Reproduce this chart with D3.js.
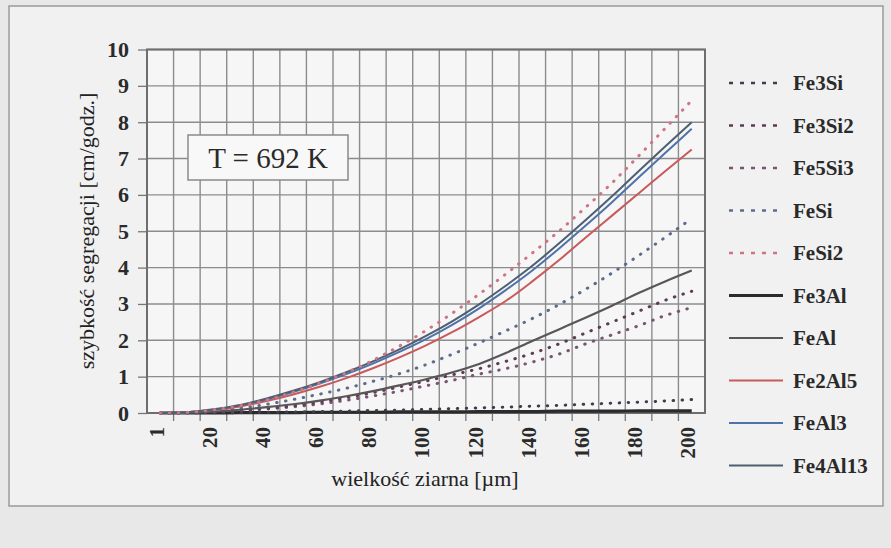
<!DOCTYPE html>
<html><head><meta charset="utf-8">
<script src="https://cdn.jsdelivr.net/npm/d3@7"></script>
<style>body{margin:0;background:#e8e8e8;}svg{display:block}</style>
</head><body>
<svg id="chart" width="891" height="548"></svg>
<script>
const categories = ["1","10","20","30","40","50","60","70","80","90","100","110","120","130","140","150","160","170","180","190","200"];
const xTickLabels = ["1","20","40","60","80","100","120","140","160","180","200"];
const yTicks = [0,1,2,3,4,5,6,7,8,9,10];
const seriesNames = ["Fe3Si","Fe3Si2","Fe5Si3","FeSi","FeSi2","Fe3Al","FeAl","Fe2Al5","FeAl3","Fe4Al13"];
const fe3Si   = [0,0,0.01,0.01,0.02,0.03,0.04,0.05,0.07,0.08,0.1,0.12,0.14,0.16,0.19,0.21,0.24,0.27,0.3,0.33,0.37];
const fe3Si2  = [0,0.01,0.03,0.07,0.13,0.2,0.3,0.42,0.56,0.72,0.88,1.05,1.22,1.42,1.64,1.9,2.2,2.5,2.8,3.1,3.35];
const fe5Si3  = [0,0.01,0.03,0.06,0.11,0.17,0.25,0.35,0.47,0.6,0.75,0.9,1.07,1.22,1.4,1.62,1.9,2.15,2.4,2.68,2.9];
const feSi    = [0,0.01,0.05,0.13,0.24,0.37,0.52,0.68,0.87,1.08,1.33,1.62,1.93,2.26,2.6,2.98,3.4,3.85,4.33,4.83,5.35];
const feSi2   = [0,0.02,0.09,0.2,0.36,0.57,0.82,1.11,1.45,1.84,2.27,2.75,3.27,3.82,4.4,5.0,5.65,6.33,7.07,7.83,8.6];
const fe3Al   = [0,0,0,0.01,0.01,0.01,0.02,0.02,0.02,0.03,0.03,0.03,0.04,0.04,0.04,0.05,0.05,0.05,0.06,0.06,0.06];
const feAl    = [0,0.01,0.04,0.09,0.16,0.24,0.34,0.46,0.6,0.76,0.93,1.12,1.35,1.65,1.98,2.3,2.62,2.95,3.3,3.62,3.92];
const fe2Al5  = [0,0.02,0.08,0.18,0.33,0.51,0.72,0.96,1.23,1.53,1.86,2.23,2.64,3.08,3.62,4.2,4.82,5.43,6.04,6.65,7.25];
const feAl3   = [0,0.02,0.09,0.21,0.38,0.58,0.81,1.07,1.36,1.68,2.03,2.43,2.88,3.38,3.92,4.52,5.15,5.8,6.48,7.15,7.82];
const fe4Al13 = [0,0.02,0.1,0.22,0.4,0.61,0.85,1.12,1.42,1.75,2.12,2.53,2.99,3.5,4.05,4.66,5.3,5.96,6.65,7.33,8.0];
const seriesValues = [fe3Si,fe3Si2,fe5Si3,feSi,feSi2,fe3Al,feAl,fe2Al5,feAl3,fe4Al13];

const styles = {
  "Fe3Si":  {color:"#3a3f4c", w:3, dash:"0.5,8.5"},
  "Fe3Si2": {color:"#5e3a55", w:3, dash:"0.5,8.5"},
  "Fe5Si3": {color:"#7a5470", w:3, dash:"0.5,8.5"},
  "FeSi":   {color:"#5d6c8c", w:3, dash:"0.5,8.5"},
  "FeSi2":  {color:"#cf7482", w:3, dash:"0.5,8.5"},
  "Fe3Al":  {color:"#2b2b2b", w:3.2, dash:null},
  "FeAl":   {color:"#5a5558", w:2.2, dash:null},
  "Fe2Al5": {color:"#c85a5c", w:2.0, dash:null},
  "FeAl3":  {color:"#4f72a8", w:2.0, dash:null},
  "Fe4Al13":{color:"#4d5f70", w:2.0, dash:null}
};

const svg = d3.select("#chart");
const serif = "'Liberation Serif','Times New Roman',serif";
const M = {left:147, right:705, top:49.5, bottom:413};

// outer frame
svg.append("rect").attr("x",9).attr("y",6).attr("width",874).attr("height",500)
  .attr("fill","#f1f1f1").attr("stroke","#9a9a9a").attr("stroke-width",1.5);

const x = d3.scaleBand().domain(categories).range([M.left, M.right]).paddingInner(0).paddingOuter(0);
const y = d3.scaleLinear().domain([0,10]).range([M.bottom, M.top]);
const cx = c => x(c) + x.bandwidth()/2;

// plot area
svg.append("rect").attr("x",M.left).attr("y",M.top).attr("width",M.right-M.left).attr("height",M.bottom-M.top)
  .attr("fill","#f6f6f6");

// horizontal gridlines
svg.append("g").selectAll("line").data(yTicks.filter(t=>t>0)).join("line")
  .attr("x1",M.left).attr("x2",M.right).attr("y1",d=>y(d)).attr("y2",d=>y(d))
  .attr("stroke","#8c8c8c").attr("stroke-width",1.4);
// vertical gridlines at category boundaries
svg.append("g").selectAll("line").data(categories.slice(1)).join("line")
  .attr("x1",d=>x(d)).attr("x2",d=>x(d)).attr("y1",M.top).attr("y2",M.bottom)
  .attr("stroke","#8c8c8c").attr("stroke-width",1.4);

// y axis
const yAxis = d3.axisLeft(y).tickValues(yTicks).tickSize(9).tickPadding(9).tickFormat(d3.format("d"));
const gy = svg.append("g").attr("transform",`translate(${M.left},0)`).call(yAxis);
gy.select(".domain").remove();
gy.selectAll(".tick line").attr("stroke","#777").attr("stroke-width",1.3);
gy.selectAll("text").attr("font-family",serif).attr("font-size",22).attr("font-weight","bold").attr("fill","#2a2a2a");

// x axis
const xAxis = d3.axisBottom(x).tickValues(categories).tickSize(0).tickFormat(d => xTickLabels.includes(d) ? d : "");
const gx = svg.append("g").attr("transform",`translate(0,${M.bottom})`).call(xAxis);
gx.select(".domain").remove();
gx.selectAll(".tick text").attr("font-family",serif).attr("font-size",21).attr("font-weight","bold").attr("fill","#2a2a2a")
  .attr("transform","rotate(-90)").attr("text-anchor","end").attr("x",-14).attr("y",-4).attr("dy","0.35em");
// x tick marks at boundaries
svg.append("g").selectAll("line").data(categories.slice(1)).join("line")
  .attr("x1",d=>x(d)).attr("x2",d=>x(d)).attr("y1",M.bottom).attr("y2",M.bottom+8)
  .attr("stroke","#777").attr("stroke-width",1.3);

// plot border
svg.append("rect").attr("x",M.left).attr("y",M.top).attr("width",M.right-M.left).attr("height",M.bottom-M.top)
  .attr("fill","none").attr("stroke","#6e6e6e").attr("stroke-width",2);

// series
const line = d3.line().x((d,i)=>cx(categories[i])).y(d=>y(d)).curve(d3.curveMonotoneX);
const drawOrder = [5,0,2,1,3,6,7,8,9,4];
drawOrder.forEach(k => {
  const name = seriesNames[k], st = styles[name];
  svg.append("path").datum(seriesValues[k]).attr("d",line)
    .attr("fill","none").attr("stroke",st.color).attr("stroke-width",st.w)
    .attr("stroke-linecap", st.dash ? "round" : "butt")
    .attr("stroke-dasharray", st.dash);
});

// T box
const tb = svg.append("g");
tb.append("rect").attr("x",188).attr("y",135).attr("width",160).attr("height",45)
  .attr("fill","#f8f8f8").attr("stroke","#8a8a8a").attr("stroke-width",1.5);
tb.append("text").attr("x",268).attr("y",168).attr("text-anchor","middle")
  .attr("font-family",serif).attr("font-size",29).attr("fill","#2a2a2a").text("T = 692 K");

// legend
const lg = svg.append("g");
seriesNames.forEach((name,i) => {
  const st = styles[name];
  const yy = 83 + i*42.5;
  lg.append("line").attr("x1",729).attr("x2",783).attr("y1",yy).attr("y2",yy)
    .attr("stroke",st.color).attr("stroke-width",st.dash?2.4:Math.max(2,st.w-0.4))
    .attr("stroke-dasharray", st.dash ? "4,7" : null);
  lg.append("text").attr("x",793).attr("y",yy).attr("dy","0.35em")
    .attr("font-family",serif).attr("font-size",21).attr("font-weight","bold").attr("fill","#2a2a2a").text(name);
});

// axis titles
svg.append("text").attr("x",425).attr("y",486).attr("text-anchor","middle")
  .attr("font-family",serif).attr("font-size",22).attr("fill","#222").text("wielkość ziarna [µm]");
svg.append("text").attr("transform","translate(94,231) rotate(-90)").attr("text-anchor","middle")
  .attr("font-family",serif).attr("font-size",22).attr("fill","#222").text("szybkość segregacji [cm/godz.]");
</script>
</body></html>
